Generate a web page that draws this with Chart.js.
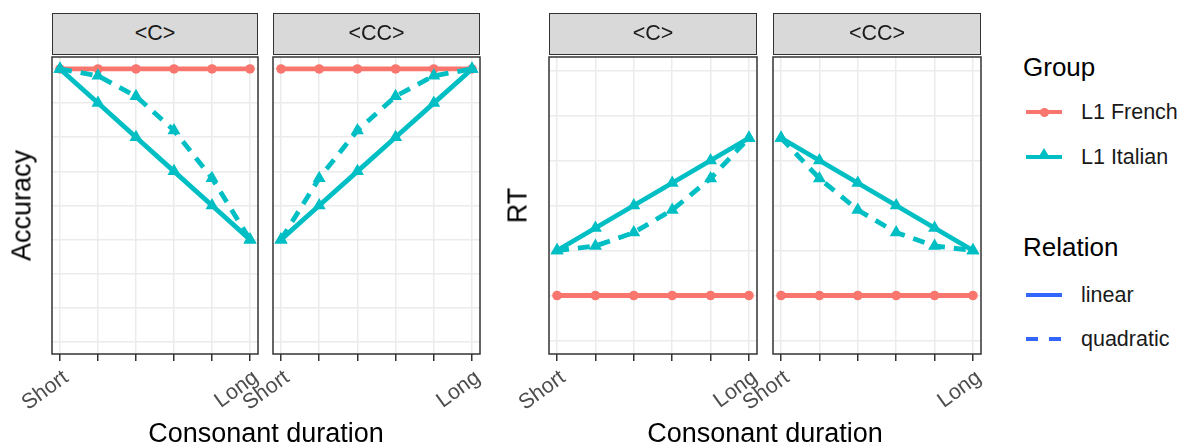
<!DOCTYPE html>
<html>
<head>
<meta charset="utf-8">
<script src="https://cdn.jsdelivr.net/npm/chart.js@4.4.1/dist/chart.umd.min.js"></script>
<style>
  body { margin: 0; background: #fff; font-family: "Liberation Sans", Arial, sans-serif; }
  #wrap { position: relative; width: 1186px; height: 446px; overflow: hidden; }
  canvas { position: absolute; }
  .strip { position: absolute; top: 13px; height: 42px; box-sizing: border-box; background: #d9d9d9;
           border: 1.5px solid #333; text-align: center; line-height: 39px; font-size: 21.5px; color: #1a1a1a; }
  .xtitle { position: absolute; top: 420px; width: 400px; text-align: center; font-size: 27px; line-height: 27px; color: #000; }
  .ytitle { position: absolute; width: 200px; height: 27px; line-height: 27px; font-size: 27px; text-align: center;
            color: #000; transform: rotate(-90deg); }
  .lg-title { position: absolute; left: 1023px; font-size: 26px; line-height: 26px; color: #000; }
  .lg-text { position: absolute; left: 1081px; font-size: 21.5px; line-height: 22px; color: #1a1a1a; }
  .lg-line { position: absolute; left: 1026px; width: 36px; height: 0; border-top: 4.5px solid; }
  .lg-dot { position: absolute; left: 1040px; width: 9px; height: 9px; border-radius: 50%; background: #F8766D; }
  .lg-tri { position: absolute; left: 1038px; width: 0; height: 0; border-left: 6px solid transparent;
            border-right: 6px solid transparent; border-bottom: 10px solid #00BFC4; }
</style>
</head>
<body>
<div id="wrap">
  <canvas id="accC"></canvas>
  <canvas id="accCC"></canvas>
  <canvas id="rtC"></canvas>
  <canvas id="rtCC"></canvas>

  <div class="strip" style="left:52px;width:206px">&lt;C&gt;</div>
  <div class="strip" style="left:273px;width:207px">&lt;CC&gt;</div>
  <div class="strip" style="left:549px;width:208px">&lt;C&gt;</div>
  <div class="strip" style="left:773px;width:208px">&lt;CC&gt;</div>

  <div class="ytitle" style="left:-78px;top:192px">Accuracy</div>
  <div class="ytitle" style="left:418px;top:192px">RT</div>
  <div class="xtitle" style="left:66px">Consonant duration</div>
  <div class="xtitle" style="left:565px">Consonant duration</div>

  <div class="lg-title" style="top:54px">Group</div>
  <div class="lg-line" style="top:110px;border-color:#F8766D"></div>
  <div class="lg-dot" style="top:108px"></div>
  <div class="lg-text" style="top:101px">L1 French</div>
  <div class="lg-line" style="top:155px;border-color:#00BFC4"></div>
  <div class="lg-tri" style="top:148px"></div>
  <div class="lg-text" style="top:146px">L1 Italian</div>

  <div class="lg-title" style="top:234px">Relation</div>
  <div class="lg-line" style="top:293px;border-color:#3366FF"></div>
  <div class="lg-text" style="top:284px">linear</div>
  <div class="lg-line" style="top:337px;width:12px;border-color:#3366FF"></div>
  <div class="lg-line" style="top:337px;left:1049px;width:12px;border-color:#3366FF"></div>
  <div class="lg-text" style="top:328px">quadratic</div>
</div>

<script>
// consonant duration steps (only the ends are labelled)
const durationSteps = [1, 2, 3, 4, 5, 6];
const durationLabels = ['Short', '', '', '', '', 'Long'];

// Accuracy, <C>
const accFrenchC = [8, 8, 8, 8, 8, 8];
const accItalianLinC = [8, 7, 6, 5, 4, 3];
const accItalianQuadC = [8, 7.8, 7.2, 6.2, 4.8, 3];
// Accuracy, <CC>
const accFrenchCC = [8, 8, 8, 8, 8, 8];
const accItalianLinCC = [3, 4, 5, 6, 7, 8];
const accItalianQuadCC = [3, 4.8, 6.2, 7.2, 7.8, 8];

// RT, <C>
const rtFrenchC = [1, 1, 1, 1, 1, 1];
const rtItalianLinC = [2, 2.5, 3, 3.5, 4, 4.5];
const rtItalianQuadC = [2, 2.1, 2.4, 2.9, 3.6, 4.5];
// RT, <CC>
const rtFrenchCC = [1, 1, 1, 1, 1, 1];
const rtItalianLinCC = [4.5, 4, 3.5, 3, 2.5, 2];
const rtItalianQuadCC = [4.5, 3.6, 2.9, 2.4, 2.1, 2];

// gridline positions (no labels shown on y)
const accGrid = [0, 1, 2, 3, 4, 5, 6, 7, 8];
const rtGrid = [0, 1, 2, 3, 4, 5, 6];

const RED = '#F8766D';
const TEAL = '#00BFC4';
const PAD_L = 70, PAD_R = 20, PAD_T = 6, AXIS_H = 92;
const PLOT_TOP = 57, PLOT_H = 297;

const panelBorder = {
  id: 'panelBorder',
  afterDraw(chart) {
    const a = chart.chartArea, ctx = chart.ctx;
    ctx.save();
    ctx.strokeStyle = '#333';
    ctx.lineWidth = 1.5;
    ctx.strokeRect(a.left, a.top, a.right - a.left, a.bottom - a.top);
    ctx.restore();
  }
};

function pts(vals) {
  return durationSteps.map((x, i) => ({ x: x, y: vals[i] }));
}

function panel(id, left, width, french, itLin, itQuad, grid, yMin, yMax) {
  const cv = document.getElementById(id);
  cv.width = width + PAD_L + PAD_R;
  cv.height = PAD_T + PLOT_H + AXIS_H;
  cv.style.left = (left - PAD_L) + 'px';
  cv.style.top = (PLOT_TOP - PAD_T) + 'px';

  new Chart(cv, {
    type: 'line',
    data: {
      datasets: [
        { label: 'L1 Italian linear', data: pts(itLin), borderColor: TEAL, backgroundColor: TEAL,
          borderWidth: 4.8, pointStyle: 'triangle', pointRadius: 7.5, pointBorderWidth: 0, order: 1 },
        { label: 'L1 Italian quadratic', data: pts(itQuad), borderColor: TEAL, backgroundColor: TEAL,
          borderWidth: 4.8, borderDash: [12, 9], pointStyle: 'triangle', pointRadius: 7.5, pointBorderWidth: 0, order: 2 },
        { label: 'L1 French', data: pts(french), borderColor: RED, backgroundColor: RED,
          borderWidth: 4.8, pointStyle: 'circle', pointRadius: 4.8, pointBorderWidth: 0, order: 3 }
      ]
    },
    options: {
      responsive: false,
      animation: false,
      layout: { autoPadding: false, padding: { left: PAD_L, right: PAD_R, top: PAD_T, bottom: 0 } },
      plugins: { legend: { display: false }, tooltip: { enabled: false } },
      scales: {
        x: {
          type: 'linear',
          min: 0.79, max: 6.21,
          afterBuildTicks: s => { s.ticks = durationSteps.map(v => ({ value: v })); },
          afterFit: s => { s.height = AXIS_H; s.paddingLeft = 0; s.paddingRight = 0; },
          grid: { color: '#ebebeb', lineWidth: 1.5, drawTicks: true, tickLength: 7, tickColor: '#333', tickWidth: 1.5 },
          border: { display: false },
          ticks: {
            autoSkip: false, minRotation: 36, maxRotation: 36, padding: 4, labelOffset: 6,
            color: '#4d4d4d', font: { family: '"Liberation Sans", Arial', size: 21.5 },
            callback: v => durationLabels[durationSteps.indexOf(v)]
          }
        },
        y: {
          min: yMin, max: yMax,
          afterBuildTicks: s => { s.ticks = grid.map(v => ({ value: v })); },
          afterFit: s => { s.width = 0; s.paddingTop = 0; s.paddingBottom = 0; },
          grid: { color: '#ebebeb', lineWidth: 1.5, drawTicks: false },
          border: { display: false },
          ticks: { display: false }
        }
      }
    },
    plugins: [panelBorder]
  });
}

panel('accC', 52, 206, accFrenchC, accItalianLinC, accItalianQuadC, accGrid, -0.35, 8.35);
panel('accCC', 273, 207, accFrenchCC, accItalianLinCC, accItalianQuadCC, accGrid, -0.35, 8.35);
panel('rtC', 549, 208, rtFrenchC, rtItalianLinC, rtItalianQuadC, rtGrid, -0.3, 6.3);
panel('rtCC', 773, 208, rtFrenchCC, rtItalianLinCC, rtItalianQuadCC, rtGrid, -0.3, 6.3);
</script>
</body>
</html>
